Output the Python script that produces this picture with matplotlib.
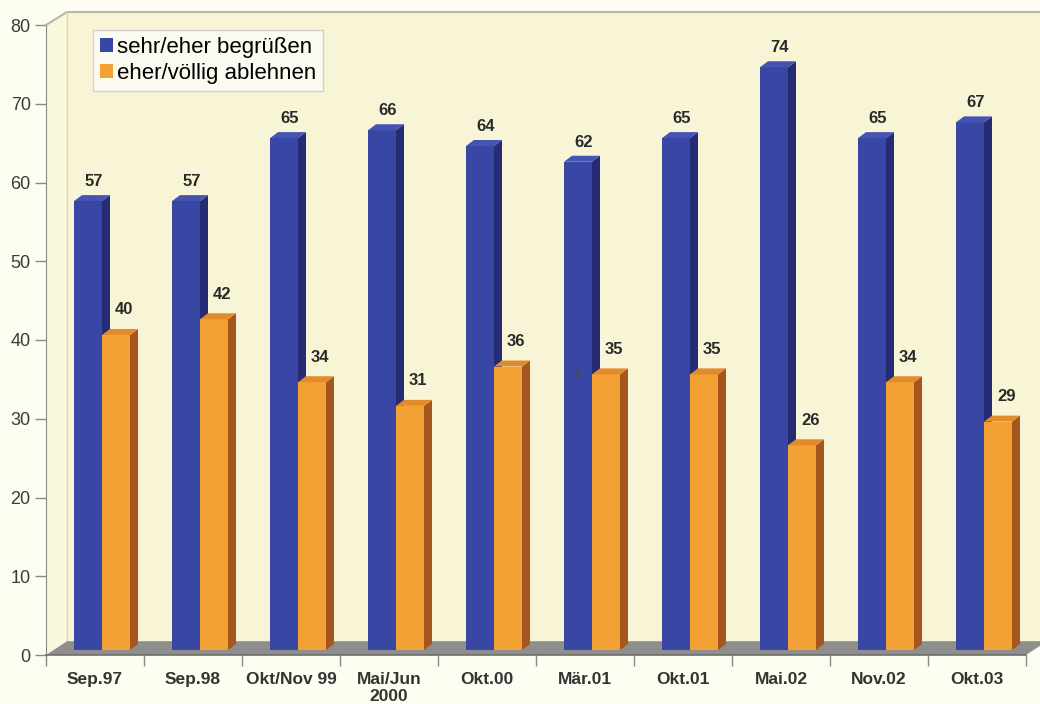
import matplotlib
matplotlib.use("Agg")
import matplotlib.pyplot as plt
from matplotlib.patches import Polygon, Rectangle, Patch

plt.rcParams['font.family'] = ['Liberation Sans', 'DejaVu Sans']

categories = ['Sep.97', 'Sep.98', 'Okt/Nov 99', 'Mai/Jun\n2000', 'Okt.00',
              'Mär.01', 'Okt.01', 'Mai.02', 'Nov.02', 'Okt.03']
begruessen = [57, 57, 65, 66, 64, 62, 65, 74, 65, 67]
ablehnen = [40, 42, 34, 31, 36, 35, 35, 26, 34, 29]
series_names = ['sehr/eher begrüßen', 'eher/völlig ablehnen']
yticks = [0, 10, 20, 30, 40, 50, 60, 70, 80]

# pixel scale: 98 px per category, 7.875 px per unit
PX = 1 / 98.0
PY = 1 / 7.875

fig = plt.figure(figsize=(10.4, 7.04), dpi=100)
fig.patch.set_facecolor('#fdfdf2')
xmin, xmax = -0.3, 10.143
ymin, ymax = -2.0, 82.5
left = (46 + xmin * 98) / 1040
width = (xmax - xmin) * 98 / 1040
bottom = (704 - (655 - ymin * 7.875)) / 704
height = (ymax - ymin) * 7.875 / 704
ax = fig.add_axes([left, bottom, width, height])
ax.set_xlim(xmin, xmax)
ax.set_ylim(ymin, ymax)
ax.set_facecolor('none')

# 3d offsets of the back wall
wdx, wdy = 21 * PX, 13 * PY
top = 80 + wdy

# left wall and back wall
ax.add_patch(Polygon([(0, 0), (0, 80), (wdx, top), (wdx, wdy + 0.2)],
                     closed=True, facecolor='#f9f7dc', edgecolor='none', zorder=1))
ax.add_patch(Rectangle((wdx, wdy), 12, top - wdy, facecolor='#f8f5d6',
                       edgecolor='none', zorder=1))
ax.plot([0, wdx, 12], [80, top, top], color='#b8b8a0', lw=1.5, zorder=2)
ax.plot([wdx, wdx], [wdy, top], color='#d8d6b8', lw=1, zorder=2)

# floor
ax.add_patch(Polygon([(0, 0), (wdx, wdy + 0.1), (10 + wdx, wdy + 0.1), (10, 0)],
                     closed=True, facecolor='#8e8e8c', edgecolor='none', zorder=2))
ax.plot([0, 10], [0, 0], color='#6e6e6e', lw=1.2, zorder=3)

# bars
bdx, bdy = 8 * PX, 6 * PY
base = 5 * PY
bw = 28 * PX


def draw_bar(x0, v, front, side, topc):
    ax.add_patch(Rectangle((x0, base), bw, v, facecolor=front,
                           edgecolor='none', zorder=4))
    ax.add_patch(Polygon([(x0 + bw, base), (x0 + bw + bdx, base + bdy),
                          (x0 + bw + bdx, base + v + bdy), (x0 + bw, base + v)],
                         closed=True, facecolor=side, edgecolor='none', zorder=4))
    ax.add_patch(Polygon([(x0, base + v), (x0 + bdx, base + v + bdy),
                          (x0 + bw + bdx, base + v + bdy), (x0 + bw, base + v)],
                         closed=True, facecolor=topc, edgecolor='none', zorder=4))


for i in range(len(categories)):
    xb = i + 28 * PX
    xo = xb + bw
    draw_bar(xb, begruessen[i], '#3847a3', '#262c74', '#4354b2')
    draw_bar(xo, ablehnen[i], '#f3a035', '#a5561f', '#e38b2a')
    ax.annotate(str(begruessen[i]), (xb + bw / 2, base + begruessen[i]),
                xytext=(4, 14), textcoords='offset points', ha='center',
                va='center', fontsize=12, fontweight='bold', color='#2a2a2a',
                zorder=5)
    ax.annotate(str(ablehnen[i]), (xo + bw / 2, base + ablehnen[i]),
                xytext=(6, 18), textcoords='offset points', ha='center',
                va='center', fontsize=12, fontweight='bold', color='#2a2a2a',
                zorder=5)

# small stray glyph in the source image
ax.text(5 + 43 * PX, 35.6, 'h', fontsize=10, color='#444466', ha='center',
        va='center', zorder=5)

# axes
for s in ['top', 'right']:
    ax.spines[s].set_visible(False)
ax.spines['left'].set_position(('data', 0))
ax.spines['left'].set_bounds(0, 80)
ax.spines['left'].set_color('#8a8a80')
ax.spines['bottom'].set_position(('data', 0))
ax.spines['bottom'].set_bounds(0, 10)
ax.spines['bottom'].set_visible(False)
ax.set_yticks(yticks)
ax.tick_params(axis='y', length=8, width=1, color='#8a8a80', pad=3,
               labelsize=13, labelcolor='#3a3a3a')
ax.set_xticks(range(11))
ax.set_xticklabels([])
ax.set_xticks([i + 0.5 for i in range(10)], minor=True)
ax.set_xticklabels(categories, minor=True, fontsize=12.5, fontweight='bold',
                   color='#333333')
ax.tick_params(axis='x', which='major', length=8, width=1, color='#8a8a80')
ax.tick_params(axis='x', which='minor', length=0, pad=12)

handles = [Patch(facecolor='#3847a3', edgecolor='none'),
           Patch(facecolor='#f3a035', edgecolor='none')]
leg = fig.legend(handles, series_names, loc='upper left',
                 bbox_to_anchor=(93 / 1040, 1 - 30 / 704), fontsize=16,
                 frameon=True, fancybox=False, handlelength=0.6,
                 handleheight=0.6, handletextpad=0.2, borderpad=0.3,
                 labelspacing=0.25, borderaxespad=0)
leg.get_frame().set_facecolor('#fdfdf8')
leg.get_frame().set_edgecolor('#c8c8c0')
leg.get_frame().set_linewidth(1)

fig.savefig('out.png', dpi=100, facecolor=fig.get_facecolor())
